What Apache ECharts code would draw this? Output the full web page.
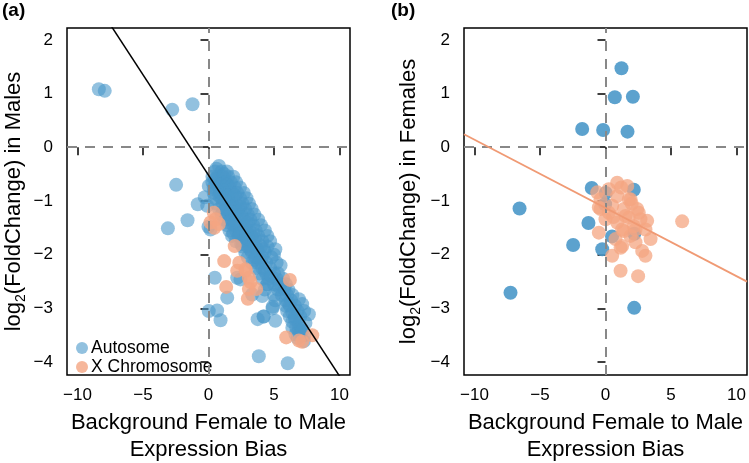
<!DOCTYPE html>
<html>
<head>
<meta charset="utf-8">
<script src="https://cdn.jsdelivr.net/npm/echarts@6/dist/echarts.min.js"></script>
<style>html,body{margin:0;padding:0;background:#fff;}#c{width:749px;height:463px;}</style>
</head>
<body>
<div id="c"></div>
<script>
// ---------- data ----------
const xTicks = [-10, -5, 0, 5, 10];
const yTicks = [-4, -3, -2, -1, 0, 1, 2];
const xRange = [-10.8, 10.8];
const yRange = [-4.24, 2.22];

// Panel (a): males
const autosomeMales = [
  [-8.37,1.08],[-7.92,1.05],[-2.77,0.70],[-1.22,0.80],[-2.47,-0.70],[-0.28,-0.93],[-0.82,-1.06],
  [-0.1,-1.09],[-1.6,-1.36],[-3.1,-1.51],[0.02,-0.72],[0.0,-1.48],[0.15,-1.53],[0.48,-2.43],
  [1.43,-2.80],[0.02,-3.05],[0.66,-3.04],[0.92,-3.22],[3.84,-3.89],[6.05,-4.02],[4.22,-3.15],
  [4.89,-3.0],[2.44,-2.46],[2.19,-2.43],[3.33,-2.74],[4.48,-2.55],
  [0.8,-0.35],
  [0.5,-0.45],[1.0,-0.45],[1.4,-0.45],
  [0.3,-0.55],[0.7,-0.55],[1.1,-0.55],[1.5,-0.55],[1.9,-0.55],
  [0.3,-0.65],[0.6,-0.65],[1.0,-0.65],[1.3,-0.65],[1.7,-0.65],[2.1,-0.65],
  [0.4,-0.75],[0.8,-0.75],[1.2,-0.75],[1.6,-0.75],[2.0,-0.75],[2.4,-0.75],
  [0.4,-0.85],[0.9,-0.85],[1.3,-0.85],[1.8,-0.85],[2.2,-0.85],[2.7,-0.85],
  [0.5,-0.95],[1.0,-0.95],[1.5,-0.95],[1.9,-0.95],[2.4,-0.95],[2.9,-0.95],
  [0.6,-1.05],[1.1,-1.05],[1.6,-1.05],[2.1,-1.05],[2.6,-1.05],[3.1,-1.05],
  [0.8,-1.15],[1.3,-1.15],[1.8,-1.15],[2.3,-1.15],[2.8,-1.15],[3.3,-1.15],
  [1.0,-1.25],[1.5,-1.25],[2.0,-1.25],[2.5,-1.25],[3.0,-1.25],[3.5,-1.25],
  [1.2,-1.35],[1.7,-1.35],[2.2,-1.35],[2.7,-1.35],[3.2,-1.35],[3.8,-1.35],
  [1.4,-1.45],[1.9,-1.45],[2.4,-1.45],[2.9,-1.45],[3.4,-1.45],[4.0,-1.45],
  [1.6,-1.55],[2.1,-1.55],[2.6,-1.55],[3.1,-1.55],[3.6,-1.55],[4.3,-1.55],
  [1.8,-1.65],[2.3,-1.65],[2.8,-1.65],[3.3,-1.65],[3.8,-1.65],[4.5,-1.65],
  [2.1,-1.75],[2.6,-1.75],[3.1,-1.75],[3.6,-1.75],[4.1,-1.75],[4.7,-1.75],
  [2.6,-1.85],[3.0,-1.85],[3.5,-1.85],[4.0,-1.85],[4.5,-1.85],[5.1,-1.9],
  [2.8,-1.95],[3.3,-1.95],[3.8,-1.95],[4.3,-1.95],[5.0,-2.0],
  [3.0,-2.05],[3.6,-2.05],[4.1,-2.05],[4.8,-2.05],
  [3.3,-2.15],[3.8,-2.15],[4.4,-2.15],[5.2,-2.15],
  [3.6,-2.25],[4.1,-2.25],[4.7,-2.25],[5.5,-2.2],
  [3.9,-2.35],[4.4,-2.35],[5.0,-2.35],[5.3,-2.35],
  [4.1,-2.45],[4.6,-2.45],[5.2,-2.45],[5.7,-2.45],
  [4.5,-2.55],[5.0,-2.55],[5.5,-2.55],[5.9,-2.55],
  [4.3,-2.65],[5.3,-2.65],[5.8,-2.65],[6.1,-2.65],
  [4.1,-2.77],[5.0,-2.75],[5.6,-2.75],[6.0,-2.75],[6.4,-2.75],
  [5.1,-2.85],[5.9,-2.85],[6.3,-2.85],[6.9,-2.83],
  [4.9,-2.97],[5.9,-2.95],[6.2,-2.95],[6.6,-2.95],[7.15,-2.92],
  [6.0,-3.05],[6.4,-3.08],[6.8,-3.05],[7.3,-3.05],
  [4.2,-3.15],[6.2,-3.15],[6.6,-3.15],[7.0,-3.15],[7.66,-3.11],
  [3.75,-3.2],[5.1,-3.23],[6.4,-3.25],[6.9,-3.3],[7.4,-3.27],
  [6.4,-3.36],[6.7,-3.35],[7.1,-3.38],
  [6.64,-3.48],[7.0,-3.45],[7.3,-3.5],
  [6.8,-3.55],[7.15,-3.42],[7.28,-3.61],
  [0.6,-0.4],[1.2,-0.5],[0.5,-0.6],[0.9,-0.7],[1.4,-0.7],[0.6,-0.8],[1.1,-0.8],[1.5,-0.9],
  [0.8,-0.9],[2.0,-0.9],[1.3,-1.0],[1.9,-1.1],[2.4,-1.1],[1.1,-1.2],[1.7,-1.2],[2.2,-1.2],
  [1.5,-1.4],[2.0,-1.4],[2.5,-1.3],[3.0,-1.4],[1.9,-1.6],[2.4,-1.6],[2.9,-1.6],[3.4,-1.6],
  [2.5,-1.8],[3.0,-1.7],[3.5,-1.7],[3.2,-1.9],[3.7,-1.9],[4.2,-1.9],[3.5,-2.1],[4.0,-2.1],
  [4.3,-2.3],[4.8,-2.4],[5.4,-2.6],[6.1,-2.9],[6.6,-3.2],[6.9,-3.4]
];
const xChromMales = [
  [0.15,-1.40],[0.4,-1.22],[0.45,-1.50],[0.55,-1.34],[0.79,-1.43],[2.0,-1.84],[1.2,-2.12],
  [2.35,-2.15],[2.19,-2.3],[2.85,-2.3],[1.35,-2.6],[3.2,-2.51],[3.08,-2.64],[3.0,-2.82],
  [3.64,-2.64],[6.21,-2.47],[5.93,-3.54],[7.92,-3.5],[6.9,-3.6],[7.15,-3.62],[3.08,-2.43],[2.82,-2.27]
];
// Panel (b): females
const autosomeFemales = [
  [1.22,1.47],[0.71,0.93],[2.09,0.94],[-1.78,0.34],[-0.18,0.32],[1.68,0.29],[-6.56,-1.14],
  [-1.05,-0.76],[0.02,-0.85],[-0.03,-1.06],[2.16,-0.79],[-1.3,-1.41],[0.5,-1.66],[-2.47,-1.82],
  [-0.25,-1.9],[2.2,-1.61],[-7.25,-2.71],[2.19,-2.99]
];
const xChromFemales = [
  [0.89,-0.66],[0.25,-0.78],[1.66,-0.72],[0.89,-0.91],[1.91,-0.97],[0.51,-1.09],[1.4,-1.15],
  [-0.38,-1.15],[2.42,-1.15],[1.78,-1.31],[2.67,-1.34],[3.18,-1.37],[0.89,-1.40],[2.16,-1.47],
  [3.05,-1.53],[1.4,-1.56],[0.76,-1.71],[3.44,-1.71],[1.15,-1.87],[2.8,-1.93],[3.05,-2.02],
  [0.51,-2.02],[5.85,-1.38],[-0.38,-0.97],[-0.63,-0.84],[0.0,-1.34],[1.91,-1.65],[2.29,-1.77],
  [1.15,-2.30],[2.49,-2.40],[1.27,-1.84],[-0.51,-1.59],[-0.51,-1.12],[1.78,-0.97],[0.25,-1.22],
  [1.53,-1.28],[2.54,-1.22],[1.27,-1.53],[2.29,-1.53],[1.2,-0.75],[2.0,-1.05],[0.6,-1.3]
];
// regression lines [intercept, slope]
const fitMales = [-0.52, -0.374];
const fitFemales = [-1.13, -0.127];

// ---------- chart ----------
const FONT = 'Liberation Sans, Arial, Helvetica, sans-serif';
const BLUE = '#4a98c9', ORANGE = '#f4a582', GREY = '#888888';
const fmt = v => (v < 0 ? '\u2212' + Math.abs(v) : String(v));
const fitLine = f => xRange.map(x => [x, f[0] + f[1] * x]);

function xAxis(gi) {
  return {
    type: 'value', gridIndex: gi, min: xRange[0], max: xRange[1],
    axisLine: { show: false },
    axisTick: { show: true, length: 8, lineStyle: { color: '#000', width: 1.5 }, customValues: xTicks },
    axisLabel: { customValues: xTicks, formatter: fmt, color: '#000', fontSize: 17, fontFamily: FONT, margin: 12 },
    splitLine: { show: false }
  };
}
function yAxis(gi) {
  return {
    type: 'value', gridIndex: gi, min: yRange[0], max: yRange[1],
    axisLine: { show: false },
    axisTick: { show: true, length: 8, lineStyle: { color: '#000', width: 1.5 }, customValues: yTicks },
    axisLabel: { customValues: yTicks, formatter: fmt, color: '#000', fontSize: 17, fontFamily: FONT, margin: 14 },
    splitLine: { show: false }
  };
}
const refLines = {
  silent: true, symbol: 'none', label: { show: false },
  lineStyle: { color: GREY, type: [10, 8], width: 2 },
  data: [{ xAxis: 0 }, { yAxis: 0 }]
};
const ylabRich = {
  a: { fontSize: 22, fontFamily: FONT, lineHeight: 28, verticalAlign: 'middle', fill: '#000' },
  s: { fontSize: 14, fontFamily: FONT, lineHeight: 14, verticalAlign: 'bottom', fill: '#000' }
};

const chart = echarts.init(document.getElementById('c'), null, { renderer: 'canvas' });
chart.setOption({
  backgroundColor: '#fff',
  animation: false,
  grid: [
    { left: 67, top: 28, width: 283, height: 347, show: true, borderColor: '#000', borderWidth: 1.5, backgroundColor: 'transparent' },
    { left: 464, top: 28, width: 283, height: 347, show: true, borderColor: '#000', borderWidth: 1.5, backgroundColor: 'transparent' }
  ],
  xAxis: [xAxis(0), xAxis(1)],
  yAxis: [yAxis(0), yAxis(1)],
  legend: {
    data: ['Autosome', 'X Chromosome'],
    orient: 'vertical', left: 71, top: 334, itemWidth: 12, itemHeight: 12, itemGap: 1,
    icon: 'circle',
    textStyle: { fontSize: 17.5, fontFamily: FONT, color: '#000', padding: [0, 0, 0, -2] }
  },
  series: [
    { name: 'Autosome', type: 'scatter', xAxisIndex: 0, yAxisIndex: 0, data: autosomeMales, symbolSize: 14,
      itemStyle: { color: BLUE, opacity: 0.6 } },
    { name: 'X Chromosome', type: 'scatter', xAxisIndex: 0, yAxisIndex: 0, data: xChromMales, symbolSize: 14,
      itemStyle: { color: ORANGE, opacity: 0.8 } },
    { name: 'fitM', type: 'line', xAxisIndex: 0, yAxisIndex: 0, data: fitLine(fitMales), showSymbol: false, clip: true,
      lineStyle: { color: '#000', width: 1.5 }, markLine: refLines, z: 5 },
    { name: 'AutosomeF', type: 'scatter', xAxisIndex: 1, yAxisIndex: 1, data: autosomeFemales, symbolSize: 14,
      itemStyle: { color: BLUE, opacity: 0.9 } },
    { name: 'XF', type: 'scatter', xAxisIndex: 1, yAxisIndex: 1, data: xChromFemales, symbolSize: 14,
      itemStyle: { color: ORANGE, opacity: 0.75 } },
    { name: 'fitF', type: 'line', xAxisIndex: 1, yAxisIndex: 1, data: fitLine(fitFemales), showSymbol: false, clip: true,
      lineStyle: { color: '#f09a74', width: 1.8 }, markLine: refLines, z: 5 }
  ],
  graphic: [
    { type: 'text', left: 2, top: 1, style: { text: '(a)', font: 'bold 19px ' + FONT, fill: '#000' } },
    { type: 'text', left: 391, top: 1, style: { text: '(b)', font: 'bold 19px ' + FONT, fill: '#000' } },
    { type: 'text', x: 208.5, y: 436.5, style: { text: 'Background Female to Male\nExpression Bias', font: '22px ' + FONT,
      lineHeight: 27, align: 'center', verticalAlign: 'middle', fill: '#000' } },
    { type: 'text', x: 605.5, y: 436.5, style: { text: 'Background Female to Male\nExpression Bias', font: '22px ' + FONT,
      lineHeight: 27, align: 'center', verticalAlign: 'middle', fill: '#000' } },
    { type: 'text', x: 14, y: 201.5, rotation: Math.PI / 2, style: { text: '{a|log}{s|2}{a|(FoldChange) in Males}', rich: ylabRich,
      align: 'center', verticalAlign: 'middle' } },
    { type: 'text', x: 409, y: 201.5, rotation: Math.PI / 2, style: { text: '{a|log}{s|2}{a|(FoldChange) in Females}', rich: ylabRich,
      align: 'center', verticalAlign: 'middle' } }
  ]
});
</script>
</body>
</html>
